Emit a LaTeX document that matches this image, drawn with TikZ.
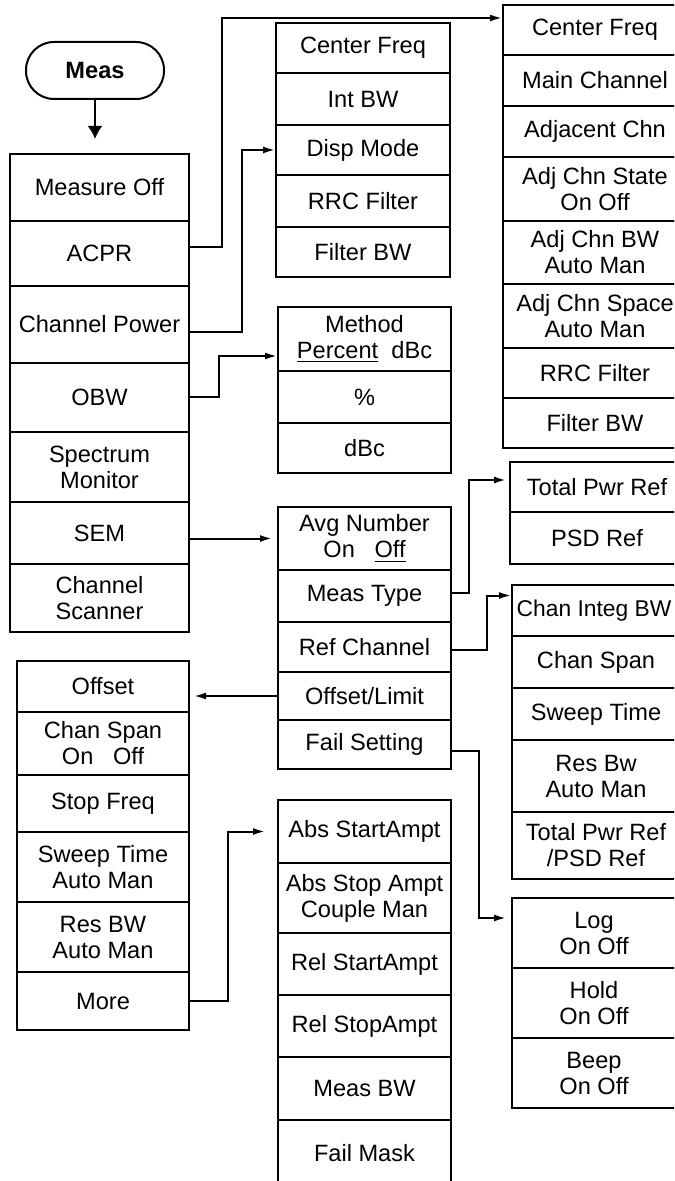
\documentclass[tikz,border=0pt]{standalone}
\usepackage{fontspec}
\setmainfont{Liberation Sans}
\usetikzlibrary{arrows.meta}

\newcommand{\softkey}[6]{\node[key, minimum width={(#3-#2)*0.5pt}, minimum height={(#5-#4)*0.5pt}] (#1) at ({(#2+#3)/2},{(#4+#5)/2}) {#6};}

\begin{document}
\begin{tikzpicture}[x=0.5pt,y=-0.5pt,
  key/.style={draw, line width=1pt, inner sep=0pt, align=center, font=\fontsize{11.8}{13}\selectfont},
  conn/.style={line width=1pt, -{Latex[length=6pt,width=3.5pt]}},
  bigtip/.style={line width=1pt, -{Latex[length=6.5pt,width=7.5pt]}}]
\clip (0,0) rectangle (674,1181);

\node[key, rounded corners=14pt, minimum width=69pt, minimum height=28.5pt, font=\fontsize{11.8}{13}\selectfont\bfseries] (meas) at (95,70.5) {Meas};

\softkey{mo}{10}{189}{154}{221}{Measure Off}
\softkey{acpr}{10}{189}{221}{286}{ACPR}
\softkey{cp}{10}{189}{286}{363}{Channel Power}
\softkey{obw}{10}{189}{363}{432}{OBW}
\softkey{sm}{10}{189}{432}{502}{Spectrum\\Monitor}
\softkey{sem}{10}{189}{502}{564}{SEM}
\softkey{cs}{10}{189}{564}{632}{Channel\\Scanner}

\softkey{cfc}{276}{450}{23}{73}{Center Freq}
\softkey{ibw}{276}{450}{73}{125}{Int BW}
\softkey{dm}{276}{450}{125}{175}{Disp Mode}
\softkey{rrcc}{276}{450}{175}{227}{RRC Filter}
\softkey{fbwc}{276}{450}{227}{277}{Filter BW}

\softkey{cfa}{503}{687}{5}{55}{Center Freq}
\softkey{mch}{503}{687}{55}{106}{Main Channel}
\softkey{adj}{503}{687}{106}{157}{Adjacent Chn}
\softkey{acs}{503}{687}{157}{221}{Adj Chn State\\On Off}
\softkey{acb}{503}{687}{221}{284}{Adj Chn BW\\Auto Man}
\softkey{acsp}{503}{687}{284}{348}{Adj Chn Space\\Auto Man}
\softkey{rrca}{503}{687}{348}{398}{RRC Filter}
\softkey{fbwa}{503}{687}{398}{448}{Filter BW}

\softkey{meth}{278}{451}{307}{371}{Method\\\underline{Percent}\ \ dBc}
\softkey{pct}{278}{451}{371}{423}{\%}
\softkey{dbc}{278}{451}{423}{473}{dBc}

\softkey{avg}{278}{451}{507}{570}{Avg Number\\On\ \ \ \underline{Off}}
\softkey{mt}{278}{451}{570}{622}{Meas Type}
\softkey{rc}{278}{451}{622}{672}{Ref Channel}
\softkey{ol}{278}{451}{672}{720}{Offset/Limit}
\softkey{fs}{278}{451}{720}{769}{Fail Setting}

\softkey{tpr}{510}{684}{462}{512}{Total Pwr Ref}
\softkey{psd}{510}{684}{512}{564}{PSD Ref}

\softkey{cib}{512}{676}{585}{636}{\fontsize{11.4}{13}\selectfont Chan Integ BW}
\softkey{csp}{512}{680}{636}{688}{Chan Span}
\softkey{swt}{512}{680}{688}{740}{Sweep Time}
\softkey{rbw}{512}{680}{740}{812}{Res Bw\\Auto Man}
\softkey{tpp}{512}{680}{812}{879}{Total Pwr Ref\\/PSD Ref}

\softkey{log}{512}{676}{898}{968}{Log\\On Off}
\softkey{hold}{512}{676}{968}{1038}{Hold\\On Off}
\softkey{beep}{512}{676}{1038}{1108}{Beep\\On Off}

\softkey{off}{17}{189}{661}{712}{Offset}
\softkey{chs}{17}{189}{712}{775}{Chan Span\\On\ \ \ Off}
\softkey{stf}{17}{189}{775}{832}{Stop Freq}
\softkey{swto}{17}{189}{832}{902}{Sweep Time\\Auto Man}
\softkey{rbwo}{17}{189}{902}{972}{Res BW\\Auto Man}
\softkey{more}{17}{189}{972}{1030}{More}

\softkey{asa}{278}{451}{800}{863}{Abs StartAmpt}
\softkey{asp}{278}{451}{863}{933}{Abs Stop Ampt\\Couple Man}
\softkey{rsa}{278}{451}{933}{995}{Rel StartAmpt}
\softkey{rsp}{278}{451}{995}{1057}{Rel StopAmpt}
\softkey{mbw}{278}{451}{1057}{1120}{Meas BW}
\softkey{fm}{278}{451}{1120}{1186}{Fail Mask}

\draw[bigtip, shorten >=7pt] (meas.south) -- (meas.south |- mo.north);
\draw[conn] ([yshift=3pt]acpr.east) -- ++(32,0) |- ([yshift=6pt]cfa.west);
\draw[conn] ([yshift=-4pt]cp.east) -- ++(52,0) |- (dm.west);
\draw[conn] (obw.east) -- ++(29,0) |- ([yshift=-8.5pt]meth.west);
\draw[conn, shorten >=2.5pt] (sem.east |- avg.west) -- (avg.west);
\draw[conn, shorten >=1.5pt] ([yshift=1.5pt]mt.east) -- ++(17,0) |- ([yshift=3.5pt]tpr.west);
\draw[conn] ([yshift=-1.5pt]rc.east) -- ++(35,0) |- ([yshift=7.5pt]cib.west);
\draw[conn, shorten >=2pt] (ol.west) -- (ol.west -| off.east);
\draw[conn, shorten >=2.5pt] ([yshift=-3pt]fs.east) -- ++(27,0) |- ([yshift=7.5pt]log.west);
\draw[conn, shorten >=6pt] (more.east) -- ++(38,0) |- (asa.west);
\end{tikzpicture}
\end{document}
